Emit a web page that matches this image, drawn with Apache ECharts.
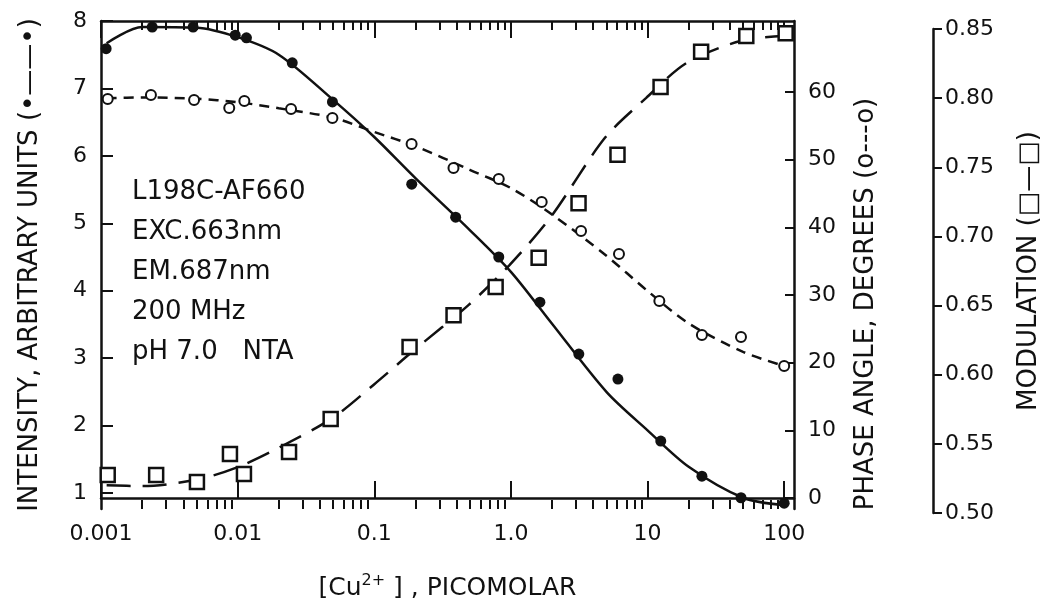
<!DOCTYPE html>
<html>
<head>
<meta charset="utf-8">
<script src="https://cdn.jsdelivr.net/npm/echarts@6/dist/echarts.min.js"></script>
<style>
  html, body { margin: 0; padding: 0; background: #fff; }
  #chart { width: 1050px; height: 612px; }
</style>
</head>
<body>
<div id="chart"></div>
<script>
// measured points
var intensityX = [0.00109, 0.00237, 0.00472, 0.0096, 0.0116, 0.0251, 0.0494, 0.188, 0.394, 0.815, 1.63, 3.14, 6.07, 12.5, 25.0, 48.3, 100];
var intensityY = [7.59, 7.91, 7.91, 7.79, 7.75, 7.38, 6.80, 5.58, 5.09, 4.50, 3.83, 3.06, 2.69, 1.77, 1.25, 0.93, 0.85];

var phaseX = [0.00112, 0.00232, 0.0048, 0.00868, 0.0112, 0.0246, 0.0494, 0.1876, 0.38, 0.815, 1.68, 3.26, 6.18, 12.2, 25, 48.3, 100];
var phaseY = [58.96, 59.55, 58.81, 57.63, 58.67, 57.49, 56.15, 52.31, 48.77, 47.15, 43.75, 39.46, 36.06, 29.11, 24.09, 23.79, 19.51];

var modX = [0.00112, 0.00254, 0.00506, 0.00884, 0.0112, 0.024, 0.0485, 0.184, 0.387, 0.788, 1.63, 3.2, 6.18, 12.8, 25.4, 54.5, 106];
var modY = [0.5275, 0.5275, 0.5224, 0.5427, 0.5282, 0.5441, 0.568, 0.620, 0.643, 0.6635, 0.6845, 0.724, 0.759, 0.808, 0.8336, 0.845, 0.847];

// fitted curves
var fitX = [0.0011, 0.002, 0.005, 0.01, 0.02, 0.05, 0.1, 0.2, 0.5, 1, 2, 5, 10, 20, 50, 100];
var intensityFit = [7.67, 7.91, 7.90, 7.76, 7.50, 6.83, 6.28, 5.67, 4.90, 4.28, 3.51, 2.50, 1.93, 1.39, 0.93, 0.82];
var phaseFit = [59.1, 59.2, 59.0, 58.5, 57.6, 56.2, 54.1, 52.0, 48.5, 45.8, 41.9, 35.8, 30.6, 25.8, 21.6, 19.5];
var modFit = [0.520, 0.5195, 0.524, 0.533, 0.547, 0.5687, 0.5926, 0.618, 0.6505, 0.6795, 0.714, 0.7713, 0.800, 0.8256, 0.8415, 0.845];

// ticks
var xTickValues = [0.001, 0.01, 0.1, 1, 10, 100];
var xTickLabels = ['0.001', '0.01', '0.1', '1.0', '10', '100'];
var intensityTicks = [1, 2, 3, 4, 5, 6, 7, 8];
var phaseTicks = [0, 10, 20, 30, 40, 50, 60];
var modTicks = [0.50, 0.55, 0.60, 0.65, 0.70, 0.75, 0.80, 0.85];

var annotationLines = ['L198C-AF660', 'EXC.663nm', 'EM.687nm', '200 MHz', 'pH 7.0   NTA'];

var xMinorTicks = [];
[0.001, 0.01, 0.1, 1, 10].forEach(function (d) {
    for (var k = 2; k <= 9; k++) xMinorTicks.push(d * k);
});

function pairs(xs, ys) {
    return xs.map(function (x, i) { return [x, ys[i]]; });
}

var FONT = 'DejaVu Sans';
var INK = '#111';
var X_MIN = 0.001, X_MAX = 118;

function logAxis(grid, pos, opts) {
    return Object.assign({
        type: 'log', gridIndex: grid, position: pos, min: X_MIN, max: X_MAX,
        splitLine: { show: false },
        axisLine: { show: false },
        axisTick: { show: false },
        axisLabel: { show: false }
    }, opts);
}

var chart = echarts.init(document.getElementById('chart'));
chart.setOption({
    animation: false,
    backgroundColor: '#fff',
    textStyle: { fontFamily: FONT, color: INK },
    grid: [
        { left: 101, right: 256, top: 21, bottom: 103 },
        { left: 101, right: 256, top: 29, bottom: 99 }
    ],
    xAxis: [
        logAxis(0, 'bottom', {
            axisLine: { show: true, lineStyle: { color: INK, width: 2.5 } },
            axisTick: { show: true, inside: true, length: 17, customValues: xTickValues, lineStyle: { color: INK, width: 2 } },
            axisLabel: {
                show: true, customValues: xTickValues, fontSize: 22, color: INK, margin: 14,
                formatter: function (v) {
                    var i = xTickValues.findIndex(function (t) { return Math.abs(t - v) / t < 1e-6; });
                    return i < 0 ? '' : xTickLabels[i];
                }
            },
            name: '[Cu{sup|2+} ] , PICOMOLAR', nameLocation: 'middle', nameGap: 64,
            nameTextStyle: {
                fontSize: 25, color: INK,
                rich: { sup: { fontSize: 16, color: INK, padding: [0, 0, 14, 0] } }
            }
        }),
        logAxis(0, 'bottom', {
            axisTick: { show: true, inside: true, length: 9, customValues: xMinorTicks, lineStyle: { color: INK, width: 2 } }
        }),
        logAxis(0, 'top', {
            axisLine: { show: true, lineStyle: { color: INK, width: 2.5 } },
            axisTick: { show: true, inside: true, length: 17, customValues: xTickValues, lineStyle: { color: INK, width: 2 } }
        }),
        logAxis(0, 'top', {
            axisTick: { show: true, inside: true, length: 9, customValues: xMinorTicks, lineStyle: { color: INK, width: 2 } }
        }),
        logAxis(1, 'bottom', { show: false })
    ],
    yAxis: [
        {
            type: 'value', gridIndex: 0, position: 'left', min: 0.763, max: 8,
            splitLine: { show: false },
            axisLine: { show: true, lineStyle: { color: INK, width: 2.5 } },
            axisTick: { show: true, inside: true, length: 12, customValues: intensityTicks, lineStyle: { color: INK, width: 2 } },
            axisLabel: { customValues: intensityTicks, fontSize: 22, color: INK, margin: 14 },
            name: 'INTENSITY, ARBITRARY UNITS (•——•)', nameLocation: 'middle', nameRotate: 90, nameGap: 58,
            nameTextStyle: { fontSize: 26, color: INK }
        },
        {
            type: 'value', gridIndex: 0, position: 'right', min: -1.63, max: 70.5,
            splitLine: { show: false },
            axisLine: { show: true, lineStyle: { color: INK, width: 2.5 } },
            axisTick: { show: true, inside: true, length: 9, customValues: phaseTicks, lineStyle: { color: INK, width: 2 } },
            axisLabel: { customValues: phaseTicks, fontSize: 22, color: INK, margin: 14 }
        },
        {
            type: 'value', gridIndex: 1, position: 'right', offset: 141, min: 0.5, max: 0.85,
            splitLine: { show: false },
            axisLine: { show: true, lineStyle: { color: INK, width: 2.5 } },
            axisTick: { show: true, inside: false, length: 9, customValues: modTicks, lineStyle: { color: INK, width: 2 } },
            axisLabel: {
                customValues: modTicks, fontSize: 22, color: INK, margin: 12,
                formatter: function (v) { return v.toFixed(2); }
            },
            name: 'MODULATION (□—□)', nameLocation: 'middle', nameRotate: 90, nameGap: 83,
            nameTextStyle: { fontSize: 26, color: INK }
        }
    ],
    graphic: [
        {
            type: 'text', x: 866, y: 304, rotation: Math.PI / 2,
            style: { text: 'PHASE ANGLE, DEGREES (o---o)', font: '26px "DejaVu Sans"', fill: INK, textAlign: 'center', textVerticalAlign: 'middle' }
        }
    ].concat(annotationLines.map(function (t, i) {
        return {
            type: 'text', x: 132, y: 192 + i * 40,
            style: { text: t, font: '26px "DejaVu Sans"', fill: INK, textAlign: 'left', textVerticalAlign: 'middle' }
        };
    })),
    series: [
        {
            type: 'line', xAxisIndex: 0, yAxisIndex: 0, data: pairs(fitX, intensityFit),
            smooth: 0.3, showSymbol: false, lineStyle: { color: INK, width: 2.5 }, z: 2
        },
        {
            type: 'line', xAxisIndex: 0, yAxisIndex: 1, data: pairs(fitX, phaseFit),
            smooth: 0.3, showSymbol: false, lineStyle: { color: INK, width: 2.5, type: [10, 7] }, z: 2
        },
        {
            type: 'line', xAxisIndex: 4, yAxisIndex: 2, data: pairs(fitX, modFit),
            smooth: 0.3, showSymbol: false, lineStyle: { color: INK, width: 2.5, type: [24, 12] }, z: 2
        },
        {
            type: 'scatter', xAxisIndex: 0, yAxisIndex: 0, data: pairs(intensityX, intensityY),
            symbol: 'circle', symbolSize: 11, itemStyle: { color: INK, opacity: 1 }, z: 5
        },
        {
            type: 'scatter', xAxisIndex: 0, yAxisIndex: 1, data: pairs(phaseX, phaseY),
            symbol: 'circle', symbolSize: 10, itemStyle: { color: '#fff', borderColor: INK, borderWidth: 2, opacity: 1 }, z: 5
        },
        {
            type: 'scatter', xAxisIndex: 4, yAxisIndex: 2, data: pairs(modX, modY),
            symbol: 'rect', symbolSize: 14, itemStyle: { color: '#fff', borderColor: INK, borderWidth: 2.5, opacity: 1 }, z: 5
        }
    ]
});
</script>
</body>
</html>
